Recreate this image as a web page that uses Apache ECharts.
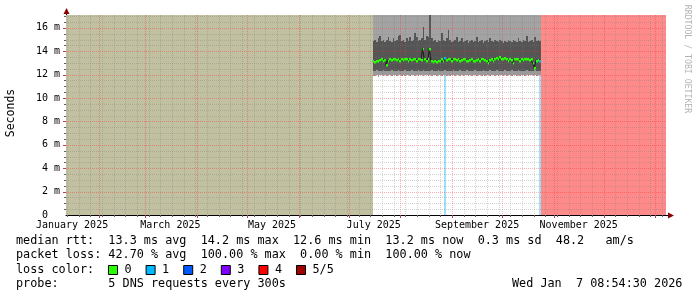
<!DOCTYPE html>
<html><head><meta charset="utf-8">
<script src="https://cdn.jsdelivr.net/npm/echarts@6/dist/echarts.min.js"></script>
<style>html,body{margin:0;padding:0;background:#fff}#c{width:697px;height:297px}</style>
</head><body><div id="c"></div>
<script>
const MONO = '"DejaVu Sans Mono", monospace';
const DAY = 86400000;
const graphStart = Date.UTC(2025, 0, 12, 8, 54, 30);
const graphEnd = Date.UTC(2026, 0, 7, 8, 54, 30);
const smokeStart = Date.UTC(2025, 6, 15, 8, 54, 30);
const fullLossStart = Date.UTC(2025, 9, 24, 8, 54, 30);
const yMax = 17.1;

// axis labels (centered mid-month, as RRDtool does)
const xLabelDates = ['2025-01-16', '2025-03-16', '2025-05-16', '2025-07-16', '2025-09-16', '2025-11-16'];
const xLabelTexts = ['January 2025', 'March 2025', 'May 2025', 'July 2025', 'September 2025', 'November 2025'];
const xMajorGridDates = ['2025-02-01', '2025-03-01', '2025-04-01', '2025-05-01', '2025-06-01', '2025-07-01',
  '2025-08-01', '2025-09-01', '2025-10-01', '2025-11-01', '2025-12-01', '2026-01-01'];
const firstWeekGrid = '2025-01-13';
const yMajorTicks = [0, 2, 4, 6, 8, 10, 12, 14, 16];

// loss classes
const lossNames = ['0', '1', '2', '3', '4', '5/5'];
const lossColors = ['#26ff00', '#00b8ff', '#0059ff', '#7e00ff', '#ff0000', '#a10000'];

// daily values (ms) from 2025-07-15 to 2025-10-24
const medianRtt = [
  13.15, 13.10, 13.20, 13.15, 13.25, 13.30, 13.20, 13.25, 12.80, 13.20,
  13.30, 13.25, 13.30, 13.35, 13.25, 13.30, 13.20, 13.30, 13.25, 13.35,
  13.30, 13.20, 13.30, 13.25, 13.35, 13.30, 13.20, 13.30, 13.35, 13.25,
  14.20, 13.30, 13.20, 13.30, 14.20, 13.20, 13.10, 13.15, 13.10, 13.20,
  13.15, 13.30, 13.20, 13.40, 13.25, 13.35, 13.30, 13.20, 13.30, 13.35,
  13.25, 13.30, 13.20, 13.25, 13.35, 13.30, 13.20, 13.15, 13.25, 13.30,
  13.20, 13.15, 13.25, 13.30, 13.20, 13.35, 13.30, 13.25, 13.20, 13.00,
  13.25, 13.30, 13.20, 13.35, 13.40, 13.30, 13.50, 13.35, 13.30, 13.40,
  13.30, 13.20, 13.30, 13.25, 13.00, 13.30, 13.35, 13.30, 13.20, 13.30,
  13.25, 13.30, 13.35, 13.30, 13.25, 13.30, 13.00, 12.60, 13.20, 13.25,
  13.20];
const smokeTop = [
  14.90, 15.00, 14.80, 15.10, 15.30, 14.90, 15.00, 14.80, 15.00, 15.20,
  14.90, 14.80, 15.10, 14.90, 15.00, 15.30, 15.40, 14.90, 15.00, 14.80,
  15.10, 14.90, 15.20, 14.90, 15.00, 15.60, 15.20, 14.90, 15.00, 15.10,
  16.10, 15.00, 15.30, 15.20, 17.60, 15.10, 14.90, 15.00, 14.80, 15.00,
  14.90, 15.60, 15.00, 14.90, 15.10, 15.80, 15.00, 14.80, 14.90, 15.00,
  15.20, 14.80, 14.90, 15.10, 14.80, 14.90, 15.00, 14.70, 14.90, 15.00,
  14.80, 14.90, 15.20, 14.80, 14.90, 15.00, 14.70, 14.90, 15.00, 14.80,
  15.10, 14.90, 14.80, 15.00, 14.90, 14.80, 15.00, 14.90, 14.70, 14.90,
  14.80, 15.00, 14.90, 14.80, 15.00, 14.90, 14.80, 15.10, 14.90, 14.80,
  15.00, 14.90, 15.30, 14.80, 14.90, 15.00, 14.80, 15.20, 14.90, 15.00,
  14.90];
const smokeBottom = [
  12.35, 12.30, 12.40, 12.35, 12.30, 12.35, 12.40, 12.30, 12.35, 12.30,
  12.35, 12.40, 12.30, 12.35, 12.30, 12.40, 12.35, 12.30, 12.35, 12.40,
  12.30, 12.35, 12.30, 12.40, 12.35, 12.30, 12.35, 12.40, 12.30, 12.35,
  12.40, 12.30, 12.35, 12.30, 12.35, 12.40, 12.30, 12.35, 12.30, 12.40,
  12.35, 12.30, 12.35, 12.40, 12.30, 12.35, 12.30, 12.35, 12.40, 12.30,
  12.35, 12.30, 12.40, 12.35, 12.30, 12.35, 12.40, 12.30, 12.35, 12.30,
  12.35, 12.40, 12.30, 12.35, 12.30, 12.35, 12.40, 12.30, 12.35, 12.30,
  12.40, 12.35, 12.30, 12.35, 12.40, 12.30, 12.35, 12.30, 12.35, 12.40,
  12.30, 12.35, 12.30, 12.40, 12.35, 12.30, 12.35, 12.40, 12.30, 12.35,
  12.30, 12.35, 12.40, 12.30, 12.35, 12.30, 12.35, 12.40, 12.30, 12.35,
  12.30];
const smokeLow = [
  11.85, 11.90, 11.95, 11.80, 11.95, 12.00, 11.90, 11.95, 11.85, 12.00,
  11.95, 11.90, 12.00, 11.95, 11.85, 11.95, 12.00, 11.90, 11.95, 11.90,
  12.00, 11.95, 11.90, 11.95, 12.00, 11.85, 11.95, 11.90, 12.00, 11.95,
  11.90, 11.95, 12.00, 11.90, 11.95, 11.85, 11.95, 12.00, 11.90, 11.95,
  11.95, 11.90, 11.95, 12.00, 11.85, 11.95, 11.90, 12.00, 11.95, 11.90,
  11.95, 12.00, 11.90, 11.95, 11.85, 11.95, 12.00, 11.90, 11.95, 11.90,
  12.00, 11.95, 11.90, 11.95, 12.00, 11.90, 11.95, 11.85, 11.95, 12.00,
  11.90, 11.95, 12.00, 11.90, 11.95, 11.90, 11.95, 12.00, 11.85, 11.95,
  11.90, 12.00, 11.95, 11.90, 11.95, 12.00, 11.90, 11.95, 11.85, 11.95,
  12.00, 11.90, 11.95, 11.90, 11.95, 12.00, 11.90, 11.95, 11.90, 11.95,
  11.95];
const smokeMax = [
  18.5, 18.2, 18.7, 18.4, 18.9, 18.3, 18.6, 18.2, 18.8, 18.5,
  18.4, 18.7, 18.3, 18.6, 18.5, 18.9, 18.2, 18.4, 18.7, 18.3,
  18.6, 18.5, 18.2, 18.8, 18.4, 18.6, 18.3, 18.7, 18.5, 18.2,
  19.1, 18.4, 18.6, 18.3, 19.5, 18.5, 18.2, 18.7, 18.4, 18.6,
  18.3, 18.8, 18.5, 18.2, 18.6, 18.9, 18.4, 18.3, 18.7, 18.5,
  18.2, 18.6, 18.4, 18.8, 18.3, 18.5, 18.7, 18.2, 18.6, 18.4,
  18.5, 18.3, 18.7, 18.2, 18.6, 18.4, 18.8, 18.5, 18.3, 18.6,
  18.4, 18.2, 18.7, 18.5, 18.3, 18.6, 18.9, 18.4, 18.2, 18.5,
  18.7, 18.3, 18.6, 18.4, 18.5, 18.2, 18.8, 18.3, 18.6, 18.4,
  18.5, 18.7, 18.3, 18.6, 18.2, 18.4, 18.5, 18.8, 18.3, 18.6,
  18.4];
const lossPerDay = [
  0, 0, 0, 0, 0, 0, 0, 0, 0, 0,
  0, 0, 0, 0, 0, 0, 0, 0, 0, 0,
  0, 0, 0, 0, 0, 0, 0, 0, 0, 0,
  0, 0, 0, 0, 0, 0, 0, 0, 0, 0,
  0, 0, 0, 1, 0, 0, 0, 0, 0, 0,
  0, 0, 0, 0, 0, 0, 0, 0, 0, 0,
  0, 0, 0, 0, 0, 0, 0, 0, 0, 0,
  0, 0, 0, 0, 0, 0, 0, 0, 0, 0,
  0, 0, 0, 0, 0, 0, 0, 0, 0, 0,
  0, 0, 0, 0, 0, 0, 0, 0, 0, 0,
  1];

const legendLines = [
  'median rtt:  13.3 ms avg  14.2 ms max  12.6 ms min  13.2 ms now  0.3 ms sd  48.2   am/s',
  'packet loss: 42.70 % avg  100.00 % max  0.00 % min  100.00 % now',
  'loss color:',
  'probe:       5 DNS requests every 300s'
];
const stampText = 'Wed Jan  7 08:54:30 2026';
const watermark = 'RRDTOOL / TOBI OETIKER';

// ---- styles
const UNKNOWN_BG = '#c1c1a1';
const LOSS_BG = ['none', '#9ee0fa', '#8fb4ff', '#bf8fff', '#ff8a8a', '#ff8a8a'];
const SMOKE_FRINGE = '#9a9a9a', SMOKE_DARK = '#555555', SMOKE_LIGHT = '#a3a3a3';
const MGRID = 'rgba(255,40,40,0.38)', GRID = 'rgba(120,120,120,0.32)';

// ---- build data
const ts = s => Date.parse(s + 'T00:00:00Z');
const bands = [{ value: [graphStart, smokeStart, 0], itemStyle: { color: UNKNOWN_BG } }];
lossPerDay.forEach((l, i) => {
  if (l > 0) bands.push({ value: [smokeStart + i * DAY, smokeStart + (i + 1) * DAY, 0], itemStyle: { color: LOSS_BG[l] } });
});
bands.push({ value: [fullLossStart, graphEnd, 0], itemStyle: { color: LOSS_BG[5] } });

const smokeData = medianRtt.map((m, i) => [smokeStart + i * DAY, smokeStart + (i + 1) * DAY,
  smokeLow[i], smokeBottom[i], smokeTop[i], smokeMax[i]]);
const medianLine = medianRtt.map((m, i) => [smokeStart + i * DAY, m]);
medianLine.push([smokeStart + medianRtt.length * DAY, medianRtt[medianRtt.length - 1]]);

const majorSet = xMajorGridDates.map(ts);
const vGrid = majorSet.map(t => [t, 0, 1]);
for (let t = ts(firstWeekGrid); t < graphEnd; t += 7 * DAY) {
  if (!majorSet.some(m => Math.abs(m - t) < DAY / 2)) vGrid.push([t, 0, 0]);
}
const hGrid = [];
for (let v = 0.5; v < yMax; v += 0.5) hGrid.push([graphStart, v, (v % 2 === 0) ? 1 : 0]);

// ---- render helpers
const px = (api, t) => Math.round(api.coord([t, 0])[0]);
const py = (api, v) => Math.round(api.coord([graphStart, v])[1]);

function bandItem(params, api) {
  const cs = params.coordSys;
  const x0 = px(api, api.value(0)), x1 = px(api, api.value(1));
  return { type: 'rect', shape: { x: x0, y: cs.y, width: x1 - x0, height: cs.height }, style: { fill: api.visual('color') } };
}
function smokeItem(params, api) {
  const cs = params.coordSys;
  const x0 = px(api, api.value(0)), x1 = px(api, api.value(1)), w = x1 - x0;
  const yLow = py(api, api.value(2)), yB = py(api, api.value(3)), yT = py(api, api.value(4));
  const yM = Math.max(cs.y, py(api, api.value(5)));
  const yTc = Math.max(cs.y, yT);
  return { type: 'group', children: [
    { type: 'rect', shape: { x: x0, y: yB, width: w, height: yLow - yB }, style: { fill: SMOKE_FRINGE } },
    { type: 'rect', shape: { x: x0, y: yTc, width: w, height: yB - yTc }, style: { fill: SMOKE_DARK } },
    { type: 'rect', shape: { x: x0, y: yM, width: w, height: Math.max(0, yTc - yM) }, style: { fill: SMOKE_LIGHT } }
  ] };
}
function vGridItem(params, api) {
  const cs = params.coordSys;
  const x = px(api, api.value(0)) + 0.5;
  const major = api.value(2) === 1;
  return { type: 'group', children: [
    { type: 'line', shape: { x1: x, y1: cs.y, x2: x, y2: cs.y + cs.height }, style: { stroke: major ? MGRID : GRID, lineWidth: 1, lineDash: [1, 1] } },
    { type: 'line', shape: { x1: x, y1: cs.y + cs.height, x2: x, y2: cs.y + cs.height + (major ? 3 : 2) }, style: { stroke: major ? '#c04040' : '#606060', lineWidth: 1 } }
  ] };
}
function hGridItem(params, api) {
  const cs = params.coordSys;
  const y = py(api, api.value(1)) + 0.5;
  const major = api.value(2) === 1;
  return { type: 'group', children: [
    { type: 'line', shape: { x1: cs.x, y1: y, x2: cs.x + cs.width, y2: y }, style: { stroke: major ? MGRID : GRID, lineWidth: 1, lineDash: [1, 1] } },
    { type: 'line', shape: { x1: cs.x - (major ? 3 : 2), y1: y, x2: cs.x, y2: y }, style: { stroke: major ? '#c04040' : '#606060', lineWidth: 1 } }
  ] };
}
function medianItem(params, api) {
  const x0 = px(api, api.value(0)), x1 = px(api, api.value(1));
  const y = api.coord([graphStart, api.value(2)])[1];
  return { type: 'rect', shape: { x: x0, y: Math.round(y - 1), width: Math.max(1, x1 - x0), height: 2.5 }, style: { fill: api.visual('color') } };
}

const series = [
  { type: 'custom', name: 'bands', z: 1, renderItem: bandItem, data: bands, encode: { x: [0, 1], y: 2 }, silent: true },
  { type: 'custom', name: 'smoke', z: 2, renderItem: smokeItem, data: smokeData, encode: { x: [0, 1], y: [2, 3, 4, 5] }, silent: true },
  { type: 'custom', name: 'vgrid', z: 3, renderItem: vGridItem, data: vGrid, encode: { x: 0, y: 1 }, silent: true },
  { type: 'custom', name: 'hgrid', z: 3, renderItem: hGridItem, data: hGrid, encode: { x: 0, y: 1 }, silent: true },
  { type: 'line', name: 'median', z: 4, step: 'end', data: medianLine, showSymbol: false, lineStyle: { color: '#1a1a1a', width: 1 }, silent: true }
];
lossNames.forEach((name, k) => {
  const data = [];
  medianRtt.forEach((m, i) => { if (lossPerDay[i] === k) data.push([smokeStart + i * DAY, smokeStart + (i + 1) * DAY, m]); });
  series.push({ type: 'custom', name, z: 5, renderItem: medianItem, data, encode: { x: [0, 1], y: 2 }, itemStyle: { color: lossColors[k] }, silent: true });
});

const graphic = [
  { type: 'text', x: 11, y: 113, rotation: Math.PI / 2, style: { text: 'Seconds', font: '11.5px ' + MONO, fill: '#000', align: 'center', verticalAlign: 'middle' } },
  { type: 'text', x: 687, y: 59, rotation: -Math.PI / 2, style: { text: watermark, font: '8.2px ' + MONO, fill: '#b4b4b4', align: 'center', verticalAlign: 'middle' } },
  { type: 'text', x: 16, y: 241, style: { text: legendLines[0], font: '11.8px ' + MONO, fill: '#000', verticalAlign: 'middle' } },
  { type: 'text', x: 16, y: 255, style: { text: legendLines[1], font: '11.8px ' + MONO, fill: '#000', verticalAlign: 'middle' } },
  { type: 'text', x: 16, y: 269.5, style: { text: legendLines[2], font: '11.8px ' + MONO, fill: '#000', verticalAlign: 'middle' } },
  { type: 'text', x: 16, y: 284, style: { text: legendLines[3], font: '11.8px ' + MONO, fill: '#000', verticalAlign: 'middle' } },
  { type: 'text', x: 512, y: 284, style: { text: stampText, font: '11.8px ' + MONO, fill: '#000', verticalAlign: 'middle' } },
  { type: 'line', shape: { x1: 66.5, y1: 15, x2: 66.5, y2: 12 }, style: { stroke: '#000', lineWidth: 1 } },
  { type: 'polygon', shape: { points: [[63.5, 14], [69.5, 14], [66.5, 8]] }, style: { fill: '#8b0000' } },
  { type: 'line', shape: { x1: 666, y1: 215.5, x2: 669, y2: 215.5 }, style: { stroke: '#000', lineWidth: 1 } },
  { type: 'polygon', shape: { points: [[668, 212.5], [668, 218.5], [674, 215.5]] }, style: { fill: '#8b0000' } }
];

const chart = echarts.init(document.getElementById('c'), null, { renderer: 'canvas', width: 697, height: 297 });
chart.setOption({
  animation: false,
  backgroundColor: '#ffffff',
  grid: { left: 66, right: 31, top: 15, bottom: 82, containLabel: false },
  xAxis: {
    type: 'value', min: graphStart, max: graphEnd,
    axisLine: { show: true, lineStyle: { color: '#000', width: 1 } },
    axisTick: { show: false }, splitLine: { show: false },
    axisLabel: {
      customValues: xLabelDates.map(ts),
      formatter: v => { const i = xLabelDates.map(ts).indexOf(v); return i >= 0 ? xLabelTexts[i] : ''; },
      fontFamily: MONO, fontSize: 10, color: '#000', margin: 5
    }
  },
  yAxis: {
    type: 'value', min: 0, max: yMax, interval: 2,
    axisLine: { show: true, lineStyle: { color: '#000', width: 1 } },
    axisTick: { show: false }, splitLine: { show: false },
    axisLabel: {
      showMaxLabel: false,
      formatter: v => yMajorTicks.indexOf(v) < 0 ? '' : (v === 0 ? '0  ' : v + ' m'),
      fontFamily: MONO, fontSize: 10, color: '#000', margin: 6
    }
  },
  legend: {
    left: 108, top: 264, padding: 0, itemWidth: 9, itemHeight: 9, itemGap: 14, icon: 'rect', selectedMode: false,
    itemStyle: { borderColor: '#000', borderWidth: 1 },
    textStyle: { fontFamily: MONO, fontSize: 11.8, color: '#000', padding: [0, 0, 0, 2] },
    data: lossNames
  },
  graphic,
  series
});
</script></body></html>
